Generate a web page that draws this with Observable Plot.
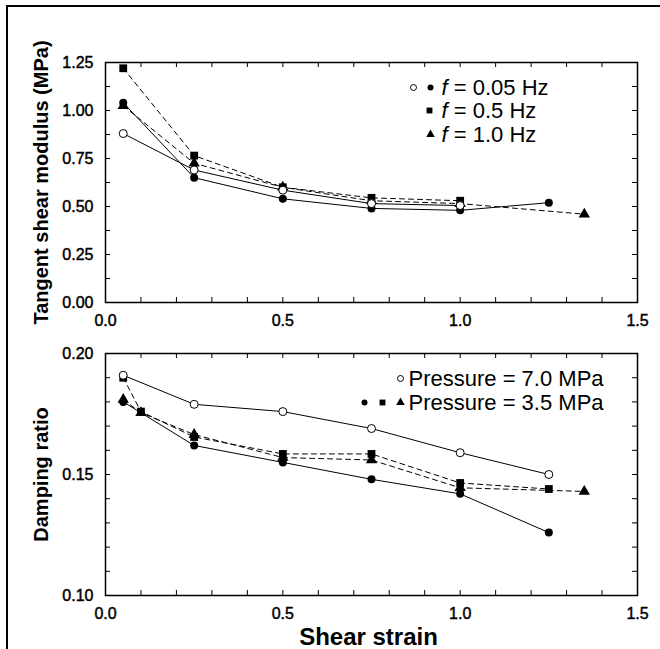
<!DOCTYPE html>
<html><head><meta charset="utf-8">
<script src="https://cdn.jsdelivr.net/npm/d3@7"></script>
<script src="https://cdn.jsdelivr.net/npm/@observablehq/plot@0.6"></script>
<style>
body{margin:0;background:#fff;}
#wrap{position:relative;width:660px;height:649px;overflow:hidden;background:#fff;font-family:"Liberation Sans",Arial,Helvetica,sans-serif;}
#wrap svg{position:absolute;left:0;background:transparent;overflow:visible;}
#wrap svg g[aria-label$="tick label"] text{stroke:#000;stroke-width:0.45px;}
#border{position:absolute;left:6px;top:5px;width:700px;height:700px;border-top:2px solid #000;border-left:2px solid #000;}
</style></head><body><div id="wrap"><div id="border"></div></div>
<script>
// ---- data ----
const xTickLabels = [0, 0.5, 1.0, 1.5];
const xMinorTicks = [0.1, 0.2, 0.3, 0.4, 0.5, 0.6, 0.7, 0.8, 0.9, 1.0, 1.1, 1.2, 1.3, 1.4];
const modulusTickLabels = [0, 0.25, 0.5, 0.75, 1.0, 1.25];
const modulusMinorTicks = [0.125, 0.25, 0.375, 0.5, 0.625, 0.75, 0.875, 1.0, 1.125];
const dampingTickLabels = [0.10, 0.15, 0.20];
const dampingMinorTicks = [0.11, 0.12, 0.13, 0.14, 0.15, 0.16, 0.17, 0.18, 0.19];

// Tangent shear modulus (MPa) vs shear strain
const modulusOpen005 = [[0.05, 0.88], [0.25, 0.69], [0.5, 0.585], [0.75, 0.515], [1.0, 0.505]];
const modulusFilled005 = [[0.05, 1.04], [0.25, 0.65], [0.5, 0.54], [0.75, 0.49], [1.0, 0.48], [1.25, 0.52]];
const modulusSquare05 = [[0.05, 1.22], [0.25, 0.765], [0.5, 0.60], [0.75, 0.545], [1.0, 0.53]];
const modulusTriangle10 = [[0.05, 1.025], [0.25, 0.725], [0.5, 0.60], [0.75, 0.53], [1.0, 0.515], [1.35, 0.46]];

// Damping ratio vs shear strain
const dampingOpen = [[0.05, 0.191], [0.25, 0.179], [0.5, 0.176], [0.75, 0.169], [1.0, 0.159], [1.25, 0.150]];
const dampingFilled = [[0.05, 0.180], [0.25, 0.162], [0.5, 0.155], [0.75, 0.148], [1.0, 0.142], [1.25, 0.126]];
const dampingSquare = [[0.05, 0.190], [0.1, 0.176], [0.25, 0.1655], [0.5, 0.1585], [0.75, 0.1585], [1.0, 0.1465], [1.25, 0.144]];
const dampingTriangle = [[0.05, 0.181], [0.1, 0.1755], [0.25, 0.1665], [0.5, 0.157], [0.75, 0.156], [1.0, 0.1445], [1.35, 0.143]];

const topLegendLabels = ["f = 0.05 Hz", "f = 0.5 Hz", "f = 1.0 Hz"];
const bottomLegendLabels = ["Pressure = 7.0 MPa", "Pressure = 3.5 MPa"];

// ---- styling ----
const FONT = '"Liberation Sans", Arial, Helvetica, sans-serif';
const W = 660, ML = 105, MR = 23;
const PW = W - ML - MR;
const DASH = "5,4";

const styles = {
  open: {symbol: "circle", fill: "white", stroke: "black", r: 4, dash: null},
  filled: {symbol: "circle", fill: "black", stroke: "none", r: 4, dash: null},
  square: {symbol: "square", fill: "black", stroke: "none", r: 4.4, dash: DASH},
  triangle: {symbol: "triangle", fill: "black", stroke: "none", r: 4.2, dash: DASH}
};

function seriesLine(data, s) {
  return Plot.line(data, {x: d => d[0], y: d => d[1], stroke: "black", strokeWidth: 1, strokeDasharray: s.dash || undefined});
}
function seriesDots(data, s) {
  return Plot.dot(data, {x: d => d[0], y: d => d[1], symbol: s.symbol, r: s.r, fill: s.fill, stroke: s.stroke, strokeWidth: 1});
}

function inwardTicks(xt, yt, PH) {
  return [
    Plot.tickX(xt, {x: d => d, insetTop: PH - 5, stroke: "black", strokeWidth: 1}),
    Plot.tickX(xt, {x: d => d, insetBottom: PH - 5, stroke: "black", strokeWidth: 1}),
    Plot.tickY(yt, {y: d => d, insetRight: PW - 5, stroke: "black", strokeWidth: 1}),
    Plot.tickY(yt, {y: d => d, insetLeft: PW - 5, stroke: "black", strokeWidth: 1})
  ];
}

function legendDot(dx, dy, s) {
  return Plot.dot([0], {frameAnchor: "top-right", dx, dy, symbol: s.symbol, r: s.r * 0.75, fill: s.fill, stroke: s.stroke, strokeWidth: 1});
}
function legendText(t, dx, dy) {
  return Plot.text([t], {frameAnchor: "top-right", text: d => d, dx, dy, textAnchor: "start", lineAnchor: "middle", fontSize: 22, fill: "black"});
}
function yTitle(t) {
  return Plot.text([t], {frameAnchor: "left", text: d => d, dx: -64, rotate: -90, textAnchor: "middle", lineAnchor: "middle", fontSize: 20, fontWeight: "bold", fill: "black"});
}
function axes(yTicks, yFmt) {
  return [
    Plot.axisX({ticks: xTickLabels, tickSize: 0, tickPadding: 12, tickFormat: d3.format(".1f"), label: null, fontSize: 16}),
    Plot.axisY({ticks: yTicks, tickSize: 0, tickPadding: 12, tickFormat: d3.format(yFmt), label: null, fontSize: 16})
  ];
}

// ---- top panel ----
const topH = 330, topMT = 62, topMB = 28;
const topPH = topH - topMT - topMB;
const topPlot = Plot.plot({
  width: W, height: topH,
  marginLeft: ML, marginRight: MR, marginTop: topMT, marginBottom: topMB,
  style: {fontFamily: FONT, fontSize: "16px", background: "transparent", color: "black", overflow: "visible"},
  x: {domain: [0, 1.5]},
  y: {domain: [0, 1.25]},
  marks: [
    seriesLine(modulusOpen005, styles.open),
    seriesLine(modulusFilled005, styles.filled),
    seriesLine(modulusSquare05, styles.square),
    seriesLine(modulusTriangle10, styles.triangle),
    seriesDots(modulusTriangle10, styles.triangle),
    seriesDots(modulusSquare05, styles.square),
    seriesDots(modulusFilled005, styles.filled),
    seriesDots(modulusOpen005, styles.open),
    ...inwardTicks(xMinorTicks, modulusMinorTicks, topPH),
    Plot.frame({stroke: "black", strokeWidth: 1.5}),
    ...axes(modulusTickLabels, ".2f"),
    yTitle("Tangent shear modulus (MPa)"),
    legendDot(-224, 25, styles.open),
    legendDot(-207, 25, styles.filled),
    legendDot(-208, 48, styles.square),
    legendDot(-207, 72, styles.triangle),
    legendText(topLegendLabels[0], -196, 25),
    legendText(topLegendLabels[1], -196, 48),
    legendText(topLegendLabels[2], -196, 72)
  ]
});
topPlot.style.top = "0px";

// ---- bottom panel ----
const botTop = 330, botH = 319, botMT = 23, botMB = 54;
const botPH = botH - botMT - botMB;
const bottomPlot = Plot.plot({
  width: W, height: botH,
  marginLeft: ML, marginRight: MR, marginTop: botMT, marginBottom: botMB,
  style: {fontFamily: FONT, fontSize: "16px", background: "transparent", color: "black", overflow: "visible"},
  x: {domain: [0, 1.5]},
  y: {domain: [0.1, 0.2]},
  marks: [
    seriesLine(dampingOpen, styles.open),
    seriesLine(dampingFilled, styles.filled),
    seriesLine(dampingSquare, styles.square),
    seriesLine(dampingTriangle, styles.triangle),
    seriesDots(dampingTriangle, styles.triangle),
    seriesDots(dampingSquare, styles.square),
    seriesDots(dampingFilled, styles.filled),
    seriesDots(dampingOpen, styles.open),
    ...inwardTicks(xMinorTicks, dampingMinorTicks, botPH),
    Plot.frame({stroke: "black", strokeWidth: 1.5}),
    ...axes(dampingTickLabels, ".2f"),
    yTitle("Damping ratio"),
    Plot.text(["Shear strain"], {frameAnchor: "bottom", text: d => d, dy: 42, dx: -3, textAnchor: "middle", lineAnchor: "middle", fontSize: 24, fontWeight: "bold", fill: "black"}),
    legendDot(-237, 25, styles.open),
    legendDot(-273, 49, styles.filled),
    legendDot(-255, 49, styles.square),
    legendDot(-237, 49, styles.triangle),
    legendText(bottomLegendLabels[0], -229, 25),
    legendText(bottomLegendLabels[1], -229, 49)
  ]
});
bottomPlot.style.top = botTop + "px";

// italic "f" in the frequency legend
topPlot.querySelectorAll("text").forEach(t => {
  if (t.textContent.startsWith("f = ") && t.childElementCount === 0) {
    const rest = t.textContent.slice(1);
    t.textContent = "";
    const ts = document.createElementNS("http://www.w3.org/2000/svg", "tspan");
    ts.setAttribute("font-style", "italic");
    ts.textContent = "f";
    t.appendChild(ts);
    t.appendChild(document.createTextNode(rest));
  }
});

const wrap = document.getElementById("wrap");
wrap.appendChild(topPlot);
wrap.appendChild(bottomPlot);
</script>
</body></html>
